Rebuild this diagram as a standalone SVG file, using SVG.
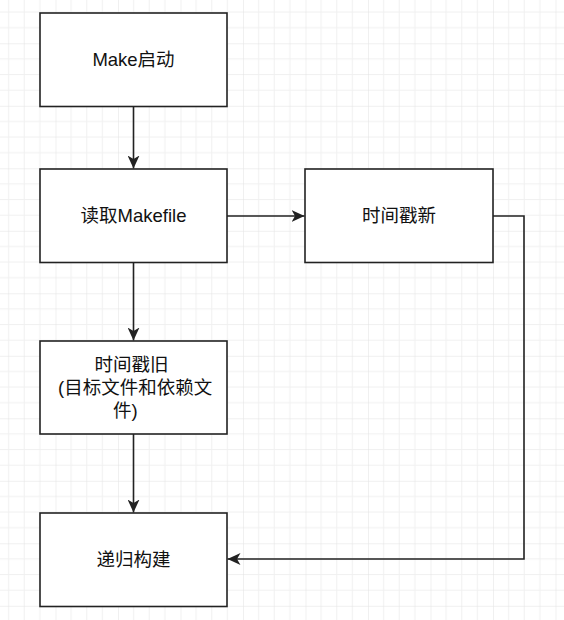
<svg xmlns="http://www.w3.org/2000/svg" width="564" height="620" viewBox="0 0 564 620">
  <defs>
    <pattern id="grid" patternUnits="userSpaceOnUse" x="55.5" y="43.3" width="62.5" height="62.5">
      <g stroke="#f0f0f0" stroke-width="1">
        <line x1="15.625" y1="0" x2="15.625" y2="62.5"/>
        <line x1="31.25" y1="0" x2="31.25" y2="62.5"/>
        <line x1="46.875" y1="0" x2="46.875" y2="62.5"/>
        <line x1="0" y1="15.625" x2="62.5" y2="15.625"/>
        <line x1="0" y1="31.25" x2="62.5" y2="31.25"/>
        <line x1="0" y1="46.875" x2="62.5" y2="46.875"/>
      </g>
      <g stroke="#e2e2e2" stroke-width="1">
        <line x1="0" y1="0" x2="0" y2="62.5"/>
        <line x1="0" y1="0" x2="62.5" y2="0"/>
      </g>
    </pattern>
    <marker id="arrow" markerUnits="userSpaceOnUse" markerWidth="14" markerHeight="12" refX="13" refY="6" orient="auto" viewBox="0 0 14 12">
      <path d="M13,6 L0,0 L3.5,6 L0,12 Z" fill="#222"/>
    </marker>
    <style>
      .box { fill: #ffffff; stroke: #222222; stroke-width: 1.6; }
      .lbl { font-family: "Liberation Sans", "Noto Sans CJK SC", sans-serif; font-size: 18.5px; fill: #111111; }
      .edge { fill: none; stroke: #222222; stroke-width: 1.6; marker-end: url(#arrow); }
    </style>
  </defs>
  <rect x="0" y="0" width="564" height="620" fill="#ffffff"/>
  <rect x="0" y="0" width="564" height="620" fill="url(#grid)"/>

  <g id="connectors">
    <path class="edge" d="M133.5,106.5 L133.5,168.5"/>
    <path class="edge" d="M133.5,262.5 L133.5,340.5"/>
    <path class="edge" d="M133.5,434 L133.5,512.5"/>
    <path class="edge" d="M227,216 L304.5,216"/>
    <path class="edge" d="M493,216 L524,216 L524,559 L227.5,559"/>
  </g>

  <g id="n1">
    <rect class="box" x="40" y="13" width="187" height="93.5"/>
    <text class="lbl" x="133.5" y="66" text-anchor="middle">Make启动</text>
  </g>
  <g id="n2">
    <rect class="box" x="40" y="169" width="187" height="93.5"/>
    <text class="lbl" x="133.5" y="222" text-anchor="middle">读取Makefile</text>
  </g>
  <g id="n3">
    <rect class="box" x="40" y="341" width="187" height="93"/>
    <text class="lbl" x="131.5" y="371" text-anchor="middle">时间戳旧</text>
    <text class="lbl" x="58" y="394">(目标文件和依赖文</text>
    <text class="lbl" x="113" y="416.5">件)</text>
  </g>
  <g id="n4">
    <rect class="box" x="40" y="513" width="187" height="93.5"/>
    <text class="lbl" x="133.5" y="566" text-anchor="middle">递归构建</text>
  </g>
  <g id="n5">
    <rect class="box" x="305" y="169" width="188" height="93.5"/>
    <text class="lbl" x="399" y="222" text-anchor="middle">时间戳新</text>
  </g>
</svg>
